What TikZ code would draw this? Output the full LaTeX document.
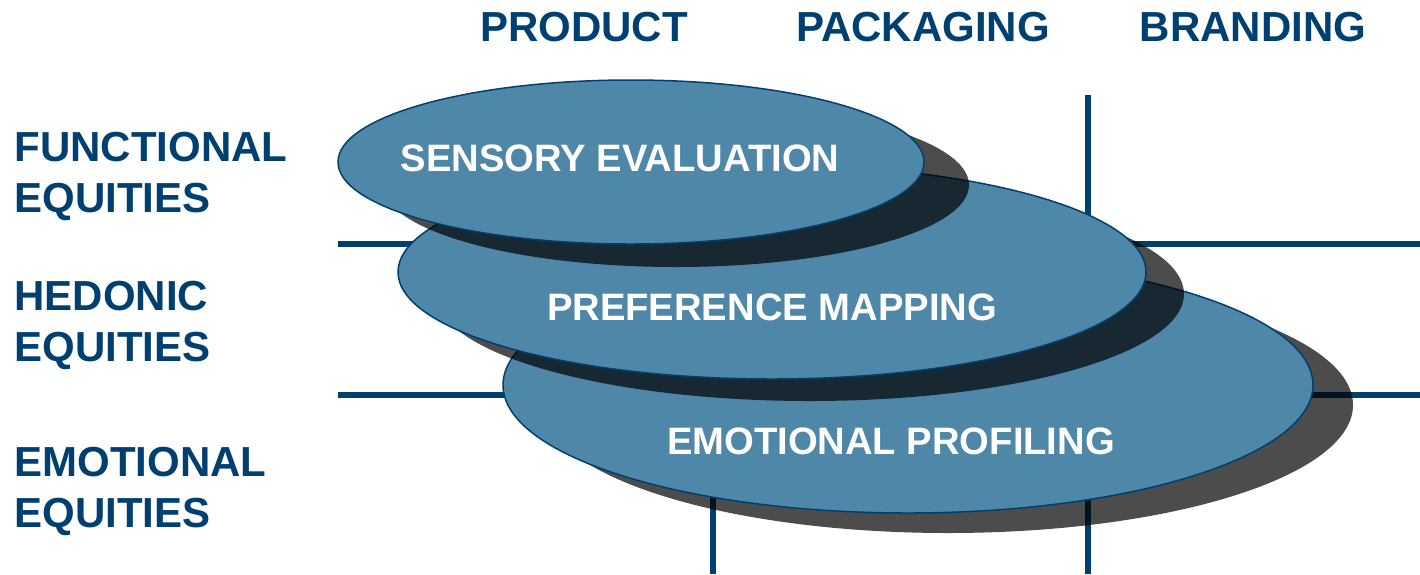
\documentclass[tikz,border=0pt]{standalone}
\usepackage{fontspec}
\setmainfont{Liberation Sans}
\definecolor{equitblue}{RGB}{0,64,113}
\definecolor{discfill}{RGB}{79,135,168}

\tikzset{every picture/.style={line width=1pt}}
\tikzset{
  gridline/.style={equitblue, line width=6pt},
  headlabel/.style={text=equitblue, font=\fontsize{42}{46}\selectfont\bfseries, inner sep=0pt},
  rowlabel/.style={text=equitblue, font=\fontsize{42}{51}\selectfont\bfseries, inner sep=0pt, align=left, anchor=west},
  disc/.style={fill=discfill, draw=equitblue, line width=1.5pt},
  discshadow/.style={fill=black, fill opacity=0.7},
  disclabel/.style={text=white, font=\fontsize{38.2}{40}\selectfont\bfseries, inner sep=0pt}
}

\begin{document}
\begin{tikzpicture}[x=1pt,y=1pt,yscale=-1,xscale=1]
        \useasboundingbox (0,0) rectangle (1420,574);

        %column heads
        \node[headlabel] (product) at (584,27) {PRODUCT};
        \node[headlabel] (packaging) at (923,27) {PACKAGING};
        \node[headlabel] (branding) at (1253,27) {BRANDING};

        %row heads
        \node[rowlabel] (functional) at (14,176) {FUNCTIONAL\\EQUITIES};
        \node[rowlabel] (hedonic) at (14,325) {HEDONIC\\EQUITIES};
        \node[rowlabel] (emotional) at (14,491) {EMOTIONAL\\EQUITIES};

        %grid
        \draw[gridline] (338,244) -- (1420,244);
        \draw[gridline] (338,395) -- (1420,395);
        \draw[gridline] (713,95) -- (713,574);
        \draw[gridline] (1088,95) -- (1088,574);

        %emotional profiling disc
        \fill[discshadow] (948,405) ellipse (405 and 128);
        \draw[disc] (908,385) ellipse (405 and 128);
        %preference mapping disc
        \fill[discshadow] (810,294) ellipse (374 and 107);
        \draw[disc] (772,272) ellipse (374 and 107);
        %sensory evaluation disc
        \fill[discshadow] (676,185) ellipse (293 and 82);
        \draw[disc] (631,162) ellipse (293 and 82);

        \node[disclabel] (sensory) at (620,158) {SENSORY EVALUATION};
        \node[disclabel] (preference) at (772,307) {PREFERENCE MAPPING};
        \node[disclabel] (profiling) at (891,441) {EMOTIONAL PROFILING};
\end{tikzpicture}
\end{document}
